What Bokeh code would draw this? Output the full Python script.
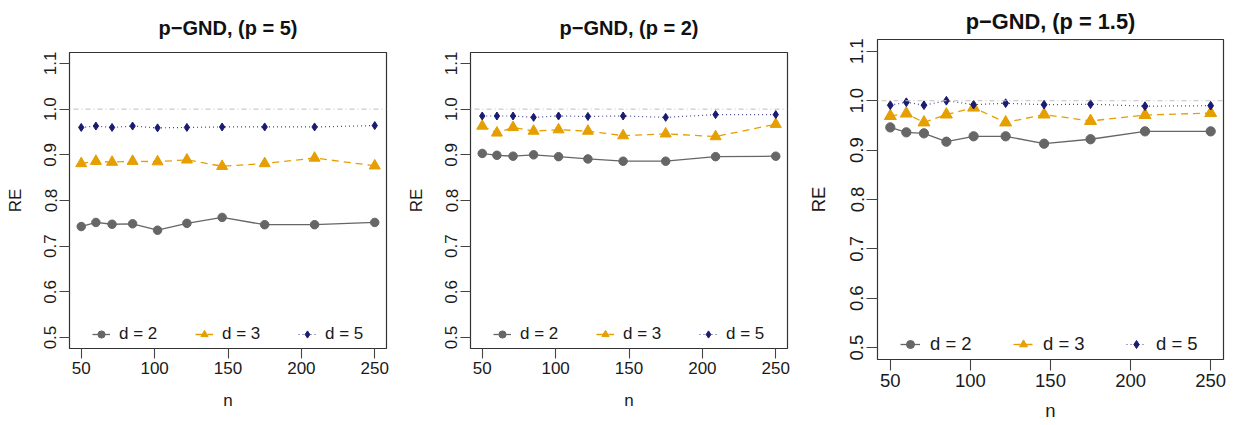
from bokeh.plotting import figure
from bokeh.layouts import row, column
from bokeh.models import Span, Legend, LegendItem, FixedTicker, Range1d
from bokeh.embed import file_html
from bokeh.resources import INLINE

# ---------------- data ----------------
n_values = [50, 60, 71, 85, 102, 122, 146, 175, 209, 250]
series_labels = ["d = 2", "d = 3", "d = 5"]
titles = ["p\u2212GND, (p = 5)", "p\u2212GND, (p = 2)", "p\u2212GND, (p = 1.5)"]

p5_d2 = [0.743, 0.752, 0.748, 0.749, 0.735, 0.750, 0.763, 0.747, 0.747, 0.752]
p5_d3 = [0.881, 0.886, 0.884, 0.886, 0.885, 0.889, 0.875, 0.881, 0.893, 0.876]
p5_d5 = [0.960, 0.963, 0.960, 0.963, 0.959, 0.960, 0.961, 0.961, 0.961, 0.964]

p2_d2 = [0.903, 0.899, 0.897, 0.900, 0.896, 0.891, 0.886, 0.886, 0.896, 0.897]
p2_d3 = [0.963, 0.948, 0.960, 0.952, 0.955, 0.952, 0.942, 0.946, 0.940, 0.967]
p2_d5 = [0.985, 0.985, 0.985, 0.982, 0.985, 0.984, 0.985, 0.982, 0.988, 0.988]

p15_d2 = [0.946, 0.936, 0.934, 0.917, 0.928, 0.928, 0.913, 0.922, 0.938, 0.938]
p15_d3 = [0.969, 0.974, 0.956, 0.972, 0.986, 0.956, 0.972, 0.959, 0.971, 0.975]
p15_d5 = [0.991, 0.997, 0.991, 1.000, 0.992, 0.995, 0.992, 0.993, 0.989, 0.990]

x_ticks = [50, 100, 150, 200, 250]
y_ticks = [0.5, 0.6, 0.7, 0.8, 0.9, 1.0, 1.1]
y_tick_labels = ["0.5", "0.6", "0.7", "0.8", "0.9", "1.0", "1.1"]
reference_level = 1.0

# ---------------- styles ----------------
FONT = "Liberation Sans"
COL_D2 = "#666666"
COL_D3 = "#E69F00"
COL_D5 = "#1B1B72"
REF_COL = "#BEBEBE"


def make_panel(title, d2, d3, d5, width, height, bl, br, bt, bb, s, x_lab_standoff, title_standoff):
    p = figure(width=width, height=height, output_backend="svg", toolbar_location=None,
               x_range=Range1d(42, 258), y_range=Range1d(0.476, 1.124),
               min_border_left=bl, min_border_right=br, min_border_top=bt,
               min_border_bottom=bb)
    p.title.text = title
    p.title.align = "center"
    p.title.text_font = FONT
    p.title.text_font_style = "bold"
    p.title.text_font_size = f"{20 * s:.1f}px"
    p.title.text_color = "#111111"
    p.title.standoff = title_standoff

    p.grid.visible = False
    p.outline_line_color = "#333333"
    p.outline_line_width = 1.2
    p.background_fill_color = "white"
    p.border_fill_color = "white"

    for ax in (p.xaxis[0], p.yaxis[0]):
        ax.axis_line_color = None
        ax.major_tick_line_color = "#444444"
        ax.major_tick_line_width = 1.1
        ax.major_tick_out = round(10 * s)
        ax.major_tick_in = 0
        ax.minor_tick_line_color = None
        ax.major_label_text_font = FONT
        ax.major_label_text_font_size = f"{17 * s:.1f}px"
        ax.major_label_text_color = "#1a1a1a"
        ax.axis_label_text_font = FONT
        ax.axis_label_text_font_size = f"{17 * s:.1f}px"
        ax.axis_label_text_font_style = "normal"
        ax.axis_label_text_color = "#1a1a1a"

    p.xaxis.ticker = FixedTicker(ticks=x_ticks)
    p.yaxis.ticker = FixedTicker(ticks=y_ticks)
    p.yaxis.major_label_overrides = {t: l for t, l in zip(y_ticks, y_tick_labels)}
    p.yaxis.major_label_orientation = "vertical"
    p.xaxis.axis_label = "n"
    p.yaxis.axis_label = "RE"
    p.xaxis.major_label_standoff = 3
    p.yaxis.major_label_standoff = 3
    p.xaxis.axis_label_standoff = x_lab_standoff
    p.yaxis.axis_label_standoff = round(17 * s)

    p.add_layout(Span(location=reference_level, dimension="width", line_color=REF_COL,
                      line_width=1, line_dash="1 3 5 3"))

    l2 = p.line(n_values, d2, line_color=COL_D2, line_width=1.3)
    m2 = p.scatter(n_values, d2, marker="circle", size=8.5 * s, fill_color=COL_D2, line_color=COL_D2)
    l3 = p.line(n_values, d3, line_color=COL_D3, line_width=1.3, line_dash="7 5")
    m3 = p.scatter(n_values, d3, marker="triangle", size=11 * s, fill_color=COL_D3, line_color=COL_D3)
    l5 = p.line(n_values, d5, line_color=COL_D5, line_width=1.2, line_dash="1 3", line_alpha=0.8)
    m5 = p.scatter(n_values, d5, marker="diamond", size=8 * s, fill_color=COL_D5, line_color=COL_D5)

    items = [LegendItem(label=series_labels[0], renderers=[l2, m2]),
             LegendItem(label=series_labels[1], renderers=[l3, m3]),
             LegendItem(label=series_labels[2], renderers=[l5, m5])]
    legend = Legend(items=items, orientation="horizontal", location=(23, 4),
                    padding=0, margin=0, glyph_width=round(18 * s), glyph_height=20,
                    label_height=20, label_standoff=round(9 * s), label_width=round(40 * s),
                    spacing=round(36 * s),
                    label_text_font=FONT, label_text_font_size=f"{17 * s:.1f}px",
                    label_text_color="#1a1a1a",
                    background_fill_alpha=0, border_line_alpha=0)
    p.add_layout(legend)
    return p


p1 = make_panel(titles[0], p5_d2, p5_d3, p5_d5, 398, 417, 69, 12, 52, 69, 1.0, 14, 28)
p2 = make_panel(titles[1], p2_d2, p2_d3, p2_d5, 402, 417, 72, 13, 52, 69, 1.0, 14, 28)
p3 = make_panel(titles[2], p15_d2, p15_d3, p15_d5, 427, 425, 77, 4, 37, 66, 1.09, 10, 12)

layout = row(column(p1), column(p2), column(p3))
open("out.html", "w").write(file_html(layout, INLINE))
